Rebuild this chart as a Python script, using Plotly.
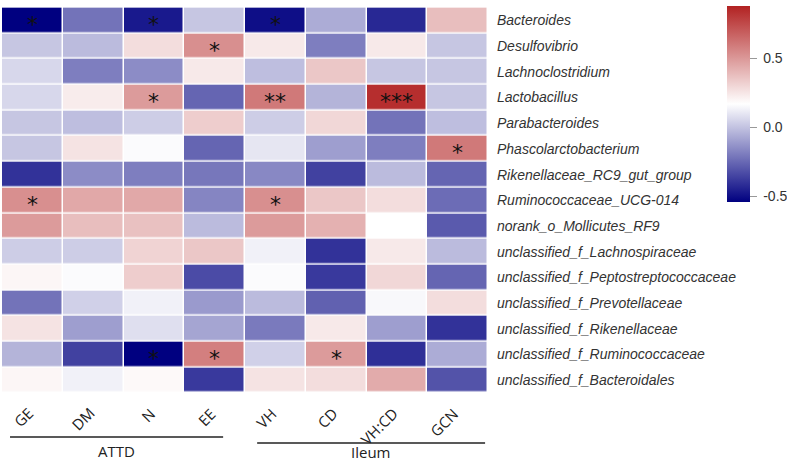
import plotly.graph_objects as go

columns = ["GE", "DM", "N", "EE", "VH", "CD", "VH:CD", "GCN"]
rows = ["Bacteroides", "Desulfovibrio", "Lachnoclostridium", "Lactobacillus",
        "Parabacteroides", "Phascolarctobacterium", "Rikenellaceae_RC9_gut_group",
        "Ruminococcaceae_UCG-014", "norank_o_Mollicutes_RF9",
        "unclassified_f_Lachnospiraceae", "unclassified_f_Peptostreptococcaceae",
        "unclassified_f_Prevotellaceae", "unclassified_f_Rikenellaceae",
        "unclassified_f_Ruminococcaceae", "unclassified_f_Bacteroidales"]

values = [
    [-0.54, -0.22, -0.47, 0.01, -0.50, -0.06, -0.43, 0.38],
    [0.01, -0.02, 0.28, 0.53, 0.24, -0.19, 0.24, 0.01],
    [0.06, -0.19, -0.15, 0.24, -0.01, 0.35, 0.01, 0.01],
    [0.06, 0.23, 0.49, -0.26, 0.60, -0.04, 0.84, 0.01],
    [0.01, -0.01, 0.03, 0.33, 0.03, 0.30, -0.22, -0.01],
    [0.01, 0.26, 0.16, -0.26, 0.10, -0.10, -0.19, 0.60],
    [-0.40, -0.15, -0.19, -0.21, -0.16, -0.36, -0.02, -0.26],
    [0.53, 0.45, 0.45, -0.17, 0.53, 0.35, 0.28, -0.24],
    [0.49, 0.38, 0.37, -0.02, 0.49, 0.42, 0.17, -0.29],
    [0.03, 0.03, 0.31, 0.35, 0.13, -0.40, 0.24, -0.02],
    [0.20, 0.16, 0.33, -0.33, 0.16, -0.38, 0.30, -0.26],
    [-0.22, 0.04, 0.13, -0.11, -0.02, -0.27, 0.15, 0.28],
    [0.26, -0.10, 0.08, -0.08, -0.20, 0.24, -0.10, -0.40],
    [-0.04, -0.36, -0.54, 0.58, 0.04, 0.49, -0.41, -0.06],
    [0.20, 0.13, 0.19, -0.38, 0.26, 0.28, 0.44, -0.31],
]

stars = [
    ["*", "", "*", "", "*", "", "", ""],
    ["", "", "", "*", "", "", "", ""],
    ["", "", "", "", "", "", "", ""],
    ["", "", "*", "", "**", "", "***", ""],
    ["", "", "", "", "", "", "", ""],
    ["", "", "", "", "", "", "", "*"],
    ["", "", "", "", "", "", "", ""],
    ["*", "", "", "", "*", "", "", ""],
    ["", "", "", "", "", "", "", ""],
    ["", "", "", "", "", "", "", ""],
    ["", "", "", "", "", "", "", ""],
    ["", "", "", "", "", "", "", ""],
    ["", "", "", "", "", "", "", ""],
    ["", "", "*", "*", "", "*", "", ""],
    ["", "", "", "", "", "", "", ""],
]

groups = [("ATTD", 0.0165, 0.455, -0.1125, -0.148),
          ("Ileum", 0.525, 0.994, -0.128, -0.152)]
cbar_ticks = [-0.5, 0.0, 0.5]
cbar_ticktext = ["\u00a0-0.5", "\u00a00.0", "\u00a00.5"]

W, H = 787, 464
fig = go.Figure()
fig.add_trace(go.Heatmap(
    z=values, x=columns, y=rows,
    zmin=-0.54, zmax=0.88,
    colorscale=[[0, "#000080"], [0.5, "#ffffff"], [1, "#b22222"]],
    xgap=1.5, ygap=1.5, hoverinfo="skip",
    colorbar=dict(
        x=727 / W, xanchor="left", xref="container", xpad=0, ypad=0,
        y=1 - 7 / H, yanchor="top", yref="container",
        len=196, lenmode="pixels", thickness=23, thicknessmode="pixels",
        outlinewidth=0, tickvals=cbar_ticks, ticktext=cbar_ticktext,
        ticks="outside", ticklen=7, tickcolor="#999999",
        tickfont=dict(family="Liberation Sans", size=14, color="#333333"),
    ),
))

annotations = []
for i, r in enumerate(rows):
    for j, c in enumerate(columns):
        s = stars[i][j]
        if s:
            annotations.append(dict(
                x=c, y=r, xref="x", yref="y", text=s, showarrow=False,
                font=dict(family="DejaVu Sans", size=22, color="#111111"),
                yshift=-4,
            ))

ncol = len(columns)
for j, c in enumerate(columns):
    annotations.append(dict(
        x=(j + 0.5) / ncol + 0.016, y=-0.02, xref="paper", yref="paper",
        text=c, showarrow=False, textangle=-45,
        xanchor="right", yanchor="top",
        font=dict(family="Open Sans", size=15, color="#222222"),
    ))

shapes = []
for name, x0, x1, yl, yt in groups:
    shapes.append(dict(type="line", xref="paper", yref="paper",
                       x0=x0, x1=x1, y0=yl, y1=yl,
                       line=dict(color="#222222", width=1.6)))
    annotations.append(dict(
        x=(x0 + x1) / 2, y=yt, xref="paper", yref="paper",
        text=name, showarrow=False, xanchor="center", yanchor="middle",
        font=dict(family="Open Sans", size=15, color="#222222"),
    ))

fig.update_layout(
    width=W, height=H,
    margin=dict(l=2, r=299, t=2, b=71, autoexpand=False),
    plot_bgcolor="white", paper_bgcolor="white",
    xaxis=dict(showticklabels=False, ticks="", showgrid=False, zeroline=False),
    yaxis=dict(side="right", autorange="reversed", ticks="", showgrid=False,
               zeroline=False, ticklabelstandoff=8, automargin=False,
               tickfont=dict(family="Liberation Sans", size=14, color="#333333",
                             style="italic")),
    annotations=annotations, shapes=shapes,
)

fig.write_html("out.html", config={"displayModeBar": False},
               post_script="document.body.style.margin='0';")
